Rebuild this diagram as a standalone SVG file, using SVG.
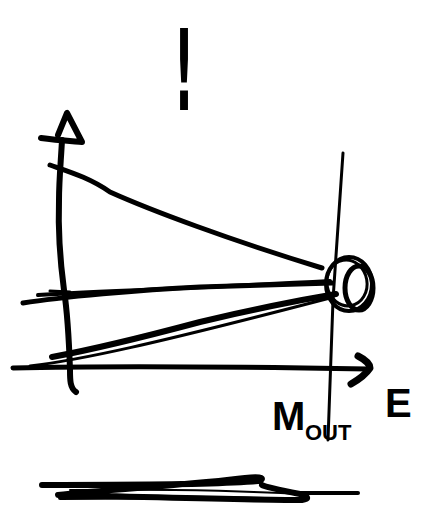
<svg xmlns="http://www.w3.org/2000/svg" width="425" height="508" viewBox="0 0 425 508">
<style>
.s{fill:none;stroke:#000;stroke-linecap:round;stroke-linejoin:round}
.t{font-family:"Liberation Sans",sans-serif;font-weight:bold;fill:#000}
</style>
<rect width="425" height="508" fill="#fff"/>
<g id="exclaim">
<text class="t" x="0" y="0" font-size="100" text-anchor="middle" style="font-family:'DejaVu Sans',sans-serif" transform="translate(184,110) scale(0.45,1.12)">!</text>
</g>
<g id="axes">
<path class="s" stroke-width="6" d="M76,392 C70,388 70,380 70,370 C69,340 67,310 64,290 C60,260 58,230 59,200 C59,180 61,160 62,140"/>
<path class="s" stroke-width="6" d="M41,138 C55,140 70,141 82,142 L67,113 L58,135"/>
<path class="s" stroke-width="5" d="M13,368 C100,366 250,367 368,369"/>
<path class="s" stroke-width="7" d="M358,356 C366,360 370,365 370,368 C366,374 358,380 351,384"/>
</g>
<g id="lines">
<path class="s" stroke-width="5" d="M50,165 C70,172 90,178 110,192 C150,210 230,240 322,268"/>
<path class="s" stroke-width="3" d="M64,170 L85,178"/>
<path class="s" stroke-width="5" d="M23,303 C60,297 140,290 200,287 C260,285 300,284 332,283"/>
<path class="s" stroke-width="4" d="M38,295 C100,291 200,288 330,281"/>
<path class="s" stroke-width="3" d="M50,291 L70,292"/>
<path class="s" stroke-width="6" d="M52,357 C90,350 140,338 200,322 C250,310 300,300 336,294"/>
<path class="s" stroke-width="3" d="M30,366 C80,360 150,345 330,298"/>
<path class="s" stroke-width="3" d="M343,153 C340,200 336,250 333,300 C331,350 329,400 328,440"/>
</g>
<g id="node">
<ellipse class="s" stroke-width="4" cx="349" cy="284" rx="23" ry="27"/>
<ellipse class="s" stroke-width="3" cx="347" cy="283" rx="20" ry="23" transform="rotate(-10 347 283)"/>
<ellipse class="s" stroke-width="5" cx="359" cy="288" rx="14" ry="22"/>
</g>
<g id="labels">
<text class="t" x="272" y="430" font-size="40">M</text>
<text class="t" x="305" y="440" font-size="22">OUT</text>
<text class="t" x="385" y="417" font-size="40">E</text>
</g>
<g id="underline">
<path class="s" stroke-width="6" d="M42,485 C120,484 200,486 258,481 C265,479 264,476 245,478 C200,484 100,490 58,495 C150,497 250,500 302,500 C310,499 308,496 300,494 C280,490 265,487 262,485"/>
<path class="s" stroke-width="4" d="M60,498 C140,497 220,497 300,500"/>
<path class="s" stroke-width="4" d="M300,493 L358,493"/>
<path class="s" stroke-width="2" d="M70,490 C150,489 230,490 300,494"/>
</g>
</svg>
